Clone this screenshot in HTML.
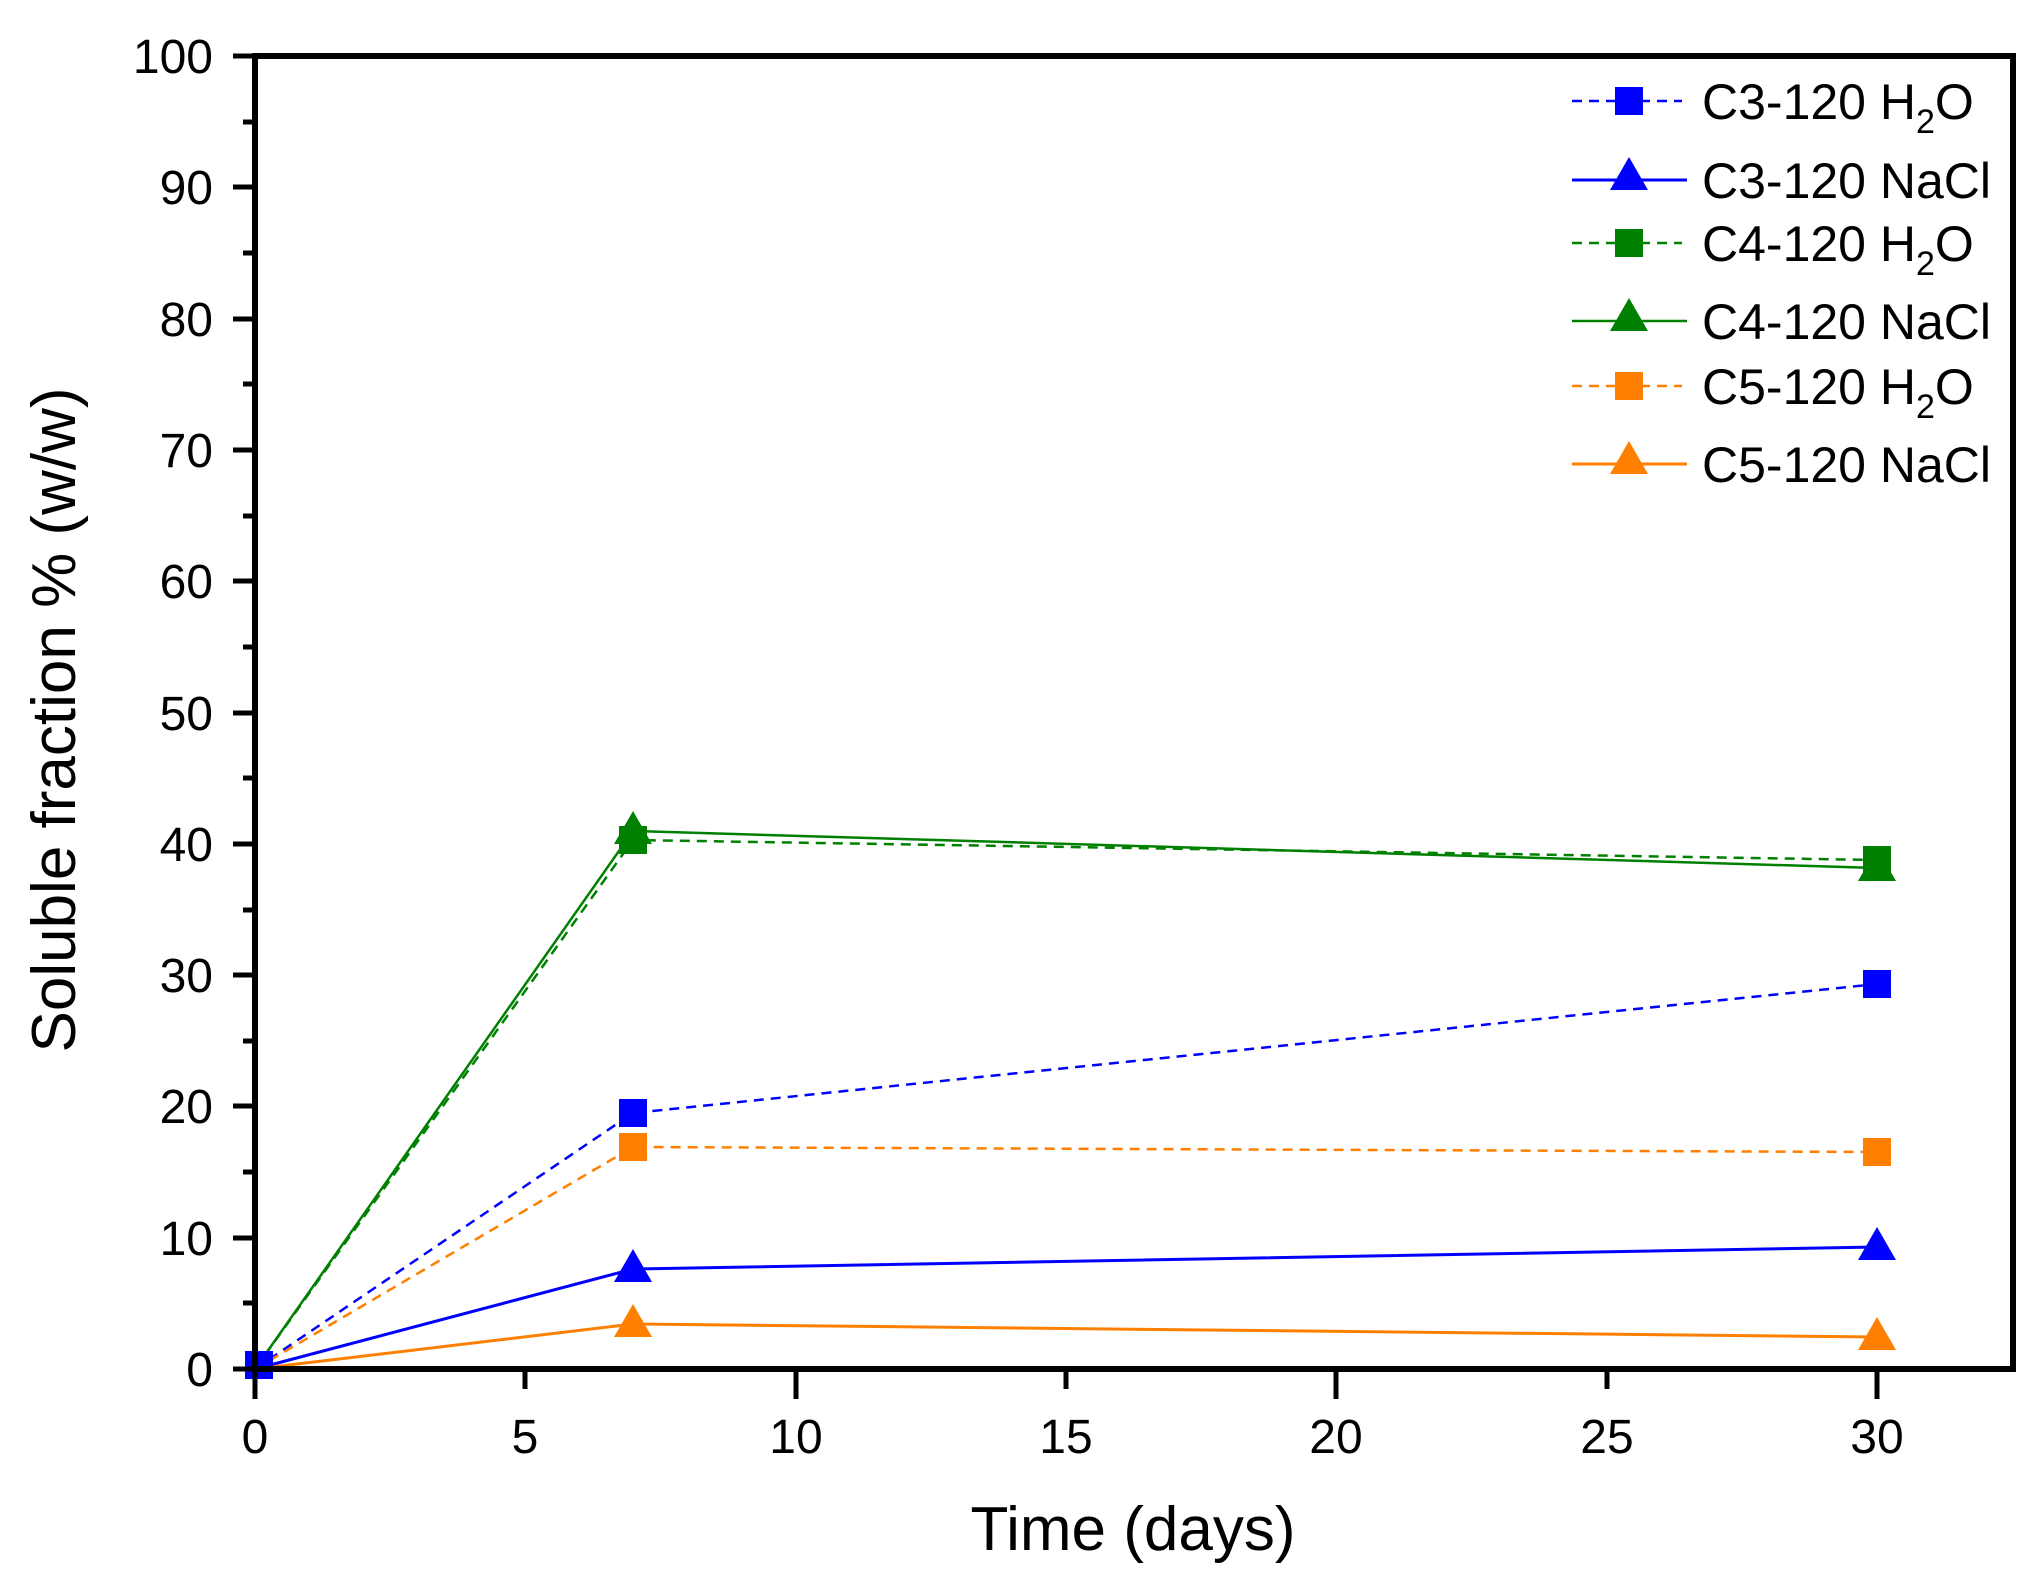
<!DOCTYPE html>
<html><head><meta charset="utf-8"><style>
html,body{margin:0;padding:0;background:#fff}
svg{display:block}
text{font-family:"Liberation Sans",Arial,sans-serif;fill:#000}
</style></head><body>
<svg width="2040" height="1590" viewBox="0 0 2040 1590" xmlns="http://www.w3.org/2000/svg">
<defs>
<rect id="sq" x="-14" y="-14" width="28" height="28"/>
<polygon id="tri" points="0,-20 -19,13 19,13"/>
</defs>
<g fill="none" stroke-width="2.5">
<polyline stroke="#0000ff" stroke-dasharray="10,7" points="255,1369 633,1113 1877,984"/>
<polyline stroke="#0000ff" stroke-width="3" points="255,1369 633,1269 1877,1247"/>
<polyline stroke="#008000" stroke-dasharray="10,7" points="255,1369 633,840 1877,860"/>
<polyline stroke="#008000" points="255,1369 633,831 1877,868"/>
<polyline stroke="#ff8000" stroke-dasharray="10,7" points="255,1369 633,1147 1877,1152"/>
<polyline stroke="#ff8000" stroke-width="3" points="255,1369 633,1324 1877,1337"/>
</g>
<g fill="#008000"><use href="#tri" x="633" y="831"/><use href="#tri" x="1877" y="868"/><use href="#sq" x="633" y="840"/><use href="#sq" x="1877" y="860"/></g>
<g fill="#0000ff"><use href="#sq" x="633" y="1113"/><use href="#sq" x="1877" y="984"/><use href="#tri" x="633" y="1269"/><use href="#tri" x="1877" y="1247"/><use href="#sq" x="259" y="1365"/></g>
<g fill="#ff8000"><use href="#sq" x="633" y="1147"/><use href="#sq" x="1877" y="1152"/><use href="#tri" x="633" y="1324"/><use href="#tri" x="1877" y="1337"/></g>
<rect x="255" y="56" width="1758" height="1313" fill="none" stroke="#000" stroke-width="6"/>
<g stroke="#000" stroke-width="5">
<path d="M255,1369v30M525,1369v20M796,1369v30M1066,1369v20M1336,1369v30M1607,1369v20M1877,1369v30"/>
<path d="M255,1369h-22M255,1303h-12M255,1238h-22M255,1172h-12M255,1106h-22M255,1041h-12M255,975h-22M255,910h-12M255,844h-22M255,778h-12M255,713h-22M255,647h-12M255,581h-22M255,516h-12M255,450h-22M255,384h-12M255,319h-22M255,253h-12M255,187h-22M255,122h-12M255,56h-22"/>
</g>
<g font-size="48" text-anchor="end">
<text x="213" y="1386">0</text><text x="213" y="1255">10</text><text x="213" y="1123">20</text><text x="213" y="992">30</text><text x="213" y="861">40</text><text x="213" y="730">50</text><text x="213" y="598">60</text><text x="213" y="467">70</text><text x="213" y="336">80</text><text x="213" y="204">90</text><text x="213" y="73">100</text>
</g>
<g font-size="48" text-anchor="middle">
<text x="255" y="1453">0</text><text x="525" y="1453">5</text><text x="796" y="1453">10</text><text x="1066" y="1453">15</text><text x="1336" y="1453">20</text><text x="1607" y="1453">25</text><text x="1877" y="1453">30</text>
</g>
<text x="1133" y="1550" font-size="62" text-anchor="middle">Time (days)</text>
<text transform="translate(75,720) rotate(-90)" font-size="62" text-anchor="middle">Soluble fraction % (w/w)</text>
<g stroke-width="2.5" fill="none">
<path d="M1572,101h110" stroke="#0000ff" stroke-dasharray="10,7"/>
<path d="M1572,180h115" stroke="#0000ff" stroke-width="3"/>
<path d="M1572,243h110" stroke="#008000" stroke-dasharray="10,7"/>
<path d="M1572,321h115" stroke="#008000"/>
<path d="M1572,386h110" stroke="#ff8000" stroke-dasharray="10,7"/>
<path d="M1572,464h115" stroke="#ff8000" stroke-width="3"/>
</g>
<use href="#sq" x="1629" y="101" fill="#0000ff"/>
<use href="#tri" x="1629" y="177" fill="#0000ff"/>
<use href="#sq" x="1629" y="243" fill="#008000"/>
<use href="#tri" x="1629" y="318" fill="#008000"/>
<use href="#sq" x="1629" y="386" fill="#ff8000"/>
<use href="#tri" x="1629" y="461" fill="#ff8000"/>
<g font-size="50">
<text x="1702" y="119">C3-120 H<tspan font-size="34" dy="14">2</tspan><tspan dy="-14">O</tspan></text>
<text x="1702" y="198">C3-120 NaCl</text>
<text x="1702" y="261">C4-120 H<tspan font-size="34" dy="14">2</tspan><tspan dy="-14">O</tspan></text>
<text x="1702" y="339">C4-120 NaCl</text>
<text x="1702" y="404">C5-120 H<tspan font-size="34" dy="14">2</tspan><tspan dy="-14">O</tspan></text>
<text x="1702" y="482">C5-120 NaCl</text>
</g>
</svg>
</body></html>
